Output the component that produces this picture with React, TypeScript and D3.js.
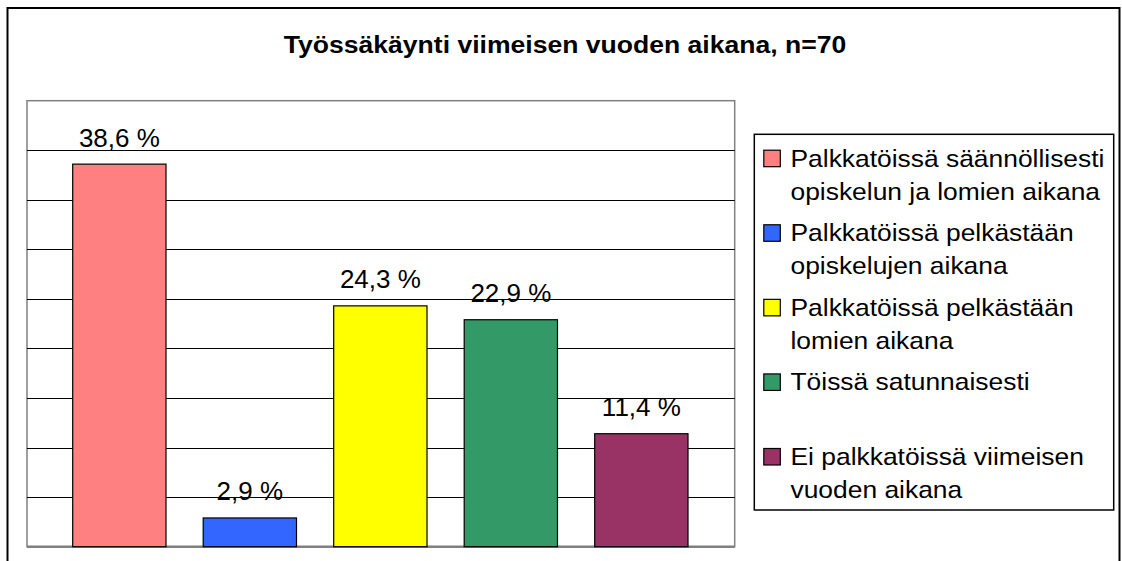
import React from "react";
import * as d3 from "d3";

const title = "Työssäkäynti viimeisen vuoden aikana, n=70";
const categories = [
  "Palkkatöissä säännöllisesti opiskelun ja lomien aikana",
  "Palkkatöissä pelkästään opiskelujen aikana",
  "Palkkatöissä pelkästään lomien aikana",
  "Töissä satunnaisesti",
  "Ei palkkatöissä viimeisen vuoden aikana",
];
const legendLines = [
  ["Palkkatöissä säännöllisesti", "opiskelun ja lomien aikana"],
  ["Palkkatöissä pelkästään", "opiskelujen aikana"],
  ["Palkkatöissä pelkästään", "lomien aikana"],
  ["Töissä satunnaisesti"],
  ["Ei palkkatöissä viimeisen", "vuoden aikana"],
];
const values = [38.6, 2.9, 24.3, 22.9, 11.4];
const valueLabels = ["38,6 %", "2,9 %", "24,3 %", "22,9 %", "11,4 %"];
const colors = ["#FF8080", "#3366FF", "#FFFF00", "#339966", "#993366"];
const gridTicks = [5, 10, 15, 20, 25, 30, 35, 40];

const FONT = "'Liberation Sans', Arial, sans-serif";

export default function App() {
  const plot = { left: 27, top: 100.7, right: 734.7, bottom: 546.7 };
  const y = d3.scaleLinear().domain([0, 45]).range([plot.bottom, plot.top]);
  const x = d3
    .scaleBand<string>()
    .domain(categories)
    .range([54.1, 706.6])
    .paddingInner(0.285)
    .paddingOuter(0.1425);

  const legend = { x: 754.3, y: 134.3, w: 359.4, h: 375.7 };
  const legendY = d3
    .scaleLinear()
    .domain([0, 4])
    .range([166.7, 465]);

  return (
    <svg
      width={1122}
      height={561}
      style={{ position: "absolute", left: 0, top: 0, background: "#fff" }}
      fontFamily={FONT}
    >
      <rect x={0} y={0} width={1122} height={561} fill="#fff" />
      {/* outer chart border */}
      <rect x={7.5} y={8} width={1112} height={580} fill="#fff" stroke="#000" strokeWidth={2} />
      {/* title */}
      <text
        transform={`translate(565,53.3) scale(1.13,1)`}
        textAnchor="middle"
        fontWeight="bold"
        fontSize={23.5}
        fill="#000"
      >
        {title}
      </text>
      {/* plot area */}
      <rect
        x={plot.left}
        y={plot.top}
        width={plot.right - plot.left}
        height={plot.bottom - plot.top}
        fill="#fff"
        stroke="#808080"
        strokeWidth={1.5}
      />
      {gridTicks.map((t) => (
        <line
          key={t}
          x1={plot.left}
          x2={plot.right}
          y1={Math.round(y(t)) + 0.5}
          y2={Math.round(y(t)) + 0.5}
          stroke="#000"
          strokeWidth={1}
        />
      ))}
      <line
        x1={plot.left}
        x2={plot.right}
        y1={plot.bottom}
        y2={plot.bottom}
        stroke="#808080"
        strokeWidth={2.5}
      />
      {categories.map((c, i) => (
        <rect
          key={c}
          x={x(c)}
          y={y(values[i])}
          width={x.bandwidth()}
          height={y(0) - y(values[i])}
          fill={colors[i]}
          stroke="#000"
          strokeWidth={1.2}
        />
      ))}
      {categories.map((c, i) => (
        <text
          key={c}
          transform={`translate(${(x(c) as number) + x.bandwidth() / 2},${y(values[i]) - 17.5}) scale(1.04,1)`}
          textAnchor="middle"
          fontSize={25}
          fill="#000"
        >
          {valueLabels[i]}
        </text>
      ))}
      {/* legend */}
      <rect
        x={legend.x}
        y={legend.y}
        width={legend.w}
        height={legend.h}
        fill="#fff"
        stroke="#000"
        strokeWidth={1.5}
      />
      {legendLines.map((lines, i) => (
        <g key={i}>
          <rect
            x={763.8}
            y={legendY(i) - 16.5}
            width={16.5}
            height={16.5}
            fill={colors[i]}
            stroke="#000"
            strokeWidth={1.2}
          />
          {lines.map((ln, j) => (
            <text
              key={j}
              transform={`translate(790.5,${legendY(i) + j * 32.8}) scale(1.1,1)`}
              fontSize={24}
              fill="#000"
            >
              {ln}
            </text>
          ))}
        </g>
      ))}
    </svg>
  );
}
